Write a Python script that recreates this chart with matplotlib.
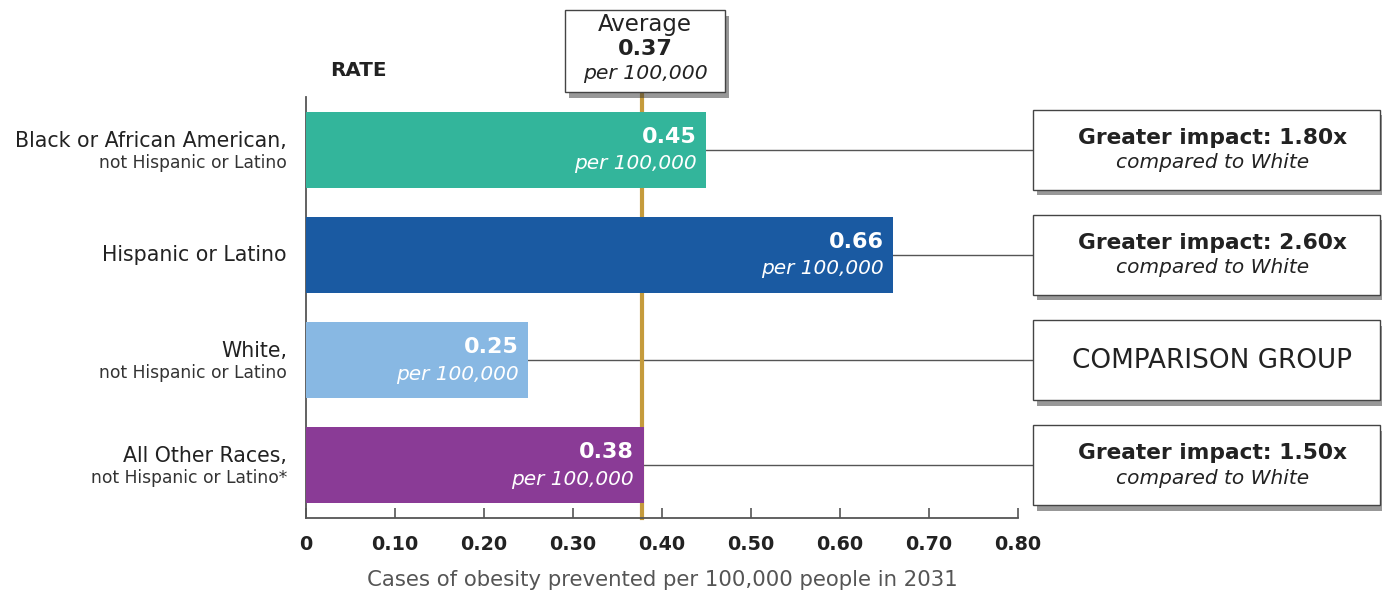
import matplotlib.pyplot as plt
from matplotlib.patches import Rectangle
import matplotlib.patheffects as pe

# data
groups = ["Black or African American,", "Hispanic or Latino", "White,", "All Other Races,"]
subgroups = ["not Hispanic or Latino", "", "not Hispanic or Latino", "not Hispanic or Latino*"]
rates = [0.45, 0.66, 0.25, 0.38]
impact = ["Greater impact: 1.80x", "Greater impact: 2.60x", None, "Greater impact: 1.50x"]
colors = ["#33B59B", "#1A5AA2", "#88B8E3", "#8A3B96"]
avg_label = "0.37"
avg_line = 0.3775
ticks = [0, 0.1, 0.2, 0.3, 0.4, 0.5, 0.6, 0.7, 0.8]
tick_labels = ["0", "0.10", "0.20", "0.30", "0.40", "0.50", "0.60", "0.70", "0.80"]

plt.rcParams['font.family'] = 'DejaVu Sans'

fig = plt.figure(figsize=(13.82, 5.91), dpi=100)
ax = fig.add_axes([0.2214, 0.1235, 0.5152, 0.7124])
ax.set_xlim(0, 0.8)
ax.set_ylim(3.5, -0.5)

px = 0.8 / 712.0    # x units per pixel
py = 1 / 105.25     # y units per pixel
y = list(range(len(groups)))

ax.barh(y, rates, height=0.72, color=colors, zorder=3)

# average line, behind the bars
ax.plot([avg_line, avg_line], [3.5, -0.55], color="#C59B3C", lw=3, zorder=2, clip_on=False)

box_l = 0.8 + 15 * px
box_r = 0.8 + 362 * px
shadow = [pe.withSimplePatchShadow(offset=(3, -4), shadow_rgbFace="#333333", alpha=0.5)]

for i, (g, s, r, imp) in enumerate(zip(groups, subgroups, rates, impact)):
    # value in bar
    ax.text(r - 10 * px, i - 13 * py, f"{r:.2f}", ha="right", va="center", color="white",
            fontsize=16, fontweight="bold", zorder=4)
    ax.text(r - 10 * px, i + 14 * py, "per 100,000", ha="right", va="center", color="white",
            fontsize=14.5, style="italic", zorder=4)
    # category labels
    if s:
        ax.text(-19 * px, i - 9 * py, g, ha="right", va="center", fontsize=14.8, color="#222222")
        ax.text(-19 * px, i + 13 * py, s, ha="right", va="center", fontsize=12.3, color="#333333")
    else:
        ax.text(-19 * px, i, g, ha="right", va="center", fontsize=14.8, color="#222222")
    # connector
    ax.plot([r, box_l], [i, i], color="#555555", lw=1, zorder=1, clip_on=False)
    # box
    rect = Rectangle((box_l, i - 40 * py), box_r - box_l, 80 * py, facecolor="white",
                     edgecolor="#444444", lw=1, zorder=5, clip_on=False, path_effects=shadow)
    ax.add_patch(rect)
    cx = (box_l + box_r) / 2 + 6 * px
    if imp:
        ax.text(cx, i - 12 * py, imp, ha="center", va="center", fontsize=15.7,
                fontweight="bold", color="#222222", zorder=6)
        ax.text(cx, i + 13 * py, "compared to White", ha="center", va="center", fontsize=14.5,
                style="italic", color="#222222", zorder=6)
    else:
        ax.text(cx, i + 1 * py, "COMPARISON GROUP", ha="center", va="center", fontsize=18.9,
                color="#222222", zorder=6)

# average box
ab_cx = avg_line + 3 * px
ab_w = 160 * px
abox = Rectangle((ab_cx - ab_w / 2, -0.5 - 87 * py), ab_w, 82 * py, facecolor="white",
                 edgecolor="#444444", lw=1, zorder=5, clip_on=False, path_effects=shadow)
ax.add_patch(abox)
ax.text(ab_cx, -0.5 - 72 * py, "Average", ha="center", va="center", fontsize=16.5,
        color="#222222", zorder=6)
ax.text(ab_cx, -0.5 - 48 * py, avg_label, ha="center", va="center", fontsize=16,
        fontweight="bold", color="#222222", zorder=6)
ax.text(ab_cx, -0.5 - 23 * py, "per 100,000", ha="center", va="center", fontsize=14.7,
        style="italic", color="#222222", zorder=6)

ax.text(24 * px, -0.5 - 26 * py, "RATE", ha="left", va="center", fontsize=14.3,
        fontweight="bold", color="#222222")

# axes styling
for sp in ["top", "right"]:
    ax.spines[sp].set_visible(False)
for sp in ["left", "bottom"]:
    ax.spines[sp].set_color("#555555")
    ax.spines[sp].set_linewidth(1.3)
ax.set_yticks([])
ax.set_xticks(ticks)
ax.set_xticklabels(tick_labels, fontsize=13.8, fontweight="bold", color="#222222")
ax.tick_params(axis="x", direction="in", length=7, width=1.2, color="#555555", pad=12)
ax.set_xlabel("Cases of obesity prevented per 100,000 people in 2031", fontsize=15.3,
              color="#555555", labelpad=12)

fig.savefig("out.png", dpi=100)
